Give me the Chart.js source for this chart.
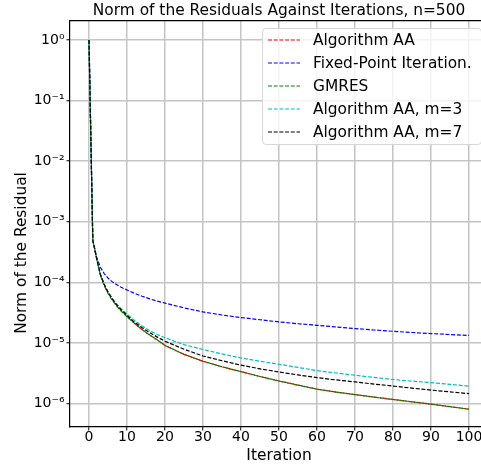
<!DOCTYPE html>
<html>
<head>
<meta charset="utf-8">
<script src="https://cdn.jsdelivr.net/npm/chart.js@4.4.1/dist/chart.umd.min.js"></script>
<style>
  body { margin: 0; background: #fff; overflow: hidden; }
  #wrap { position: relative; width: 500px; height: 469px; }
  #legend {
    position: absolute; left: 262px; top: 28px; width: 220px; height: 117px;
    border: 1px solid #d6d6d6; border-radius: 4px; background: rgba(255,255,255,0.8);
    font-family: "DejaVu Sans"; font-size: 15.4px; color: #000; box-sizing: border-box;
    padding-top: 0px;
  }
  .row { height: 22.8px; display: flex; align-items: center; white-space: nowrap; }
  .row svg { margin-left: 5px; margin-right: 13px; }
</style>
</head>
<body>
<div id="wrap">
  <canvas id="myChart" width="500" height="469"></canvas>
  <div id="legend"></div>
</div>
<script>
const iterations = [0, 1, 2, 3, 4, 5, 6, 7, 8, 9, 10, 12, 14, 16, 18, 20, 25, 30, 35, 40, 45, 50, 55, 60, 65, 70, 75, 80, 85, 90, 95, 100];

const algAA = [1, 5.0e-4, 2.5e-4, 1.35e-4, 9.2e-5, 6.8e-5, 5.4e-5, 4.4e-5, 3.7e-5, 3.2e-5, 2.75e-5, 2.1e-5, 1.66e-5, 1.35e-5, 1.12e-5, 9.1e-6, 6.5e-6, 5.0e-6, 4.05e-6, 3.37e-6, 2.8e-6, 2.36e-6, 2.02e-6, 1.73e-6, 1.55e-6, 1.41e-6, 1.28e-6, 1.17e-6, 1.07e-6, 9.8e-7, 8.9e-7, 8.1e-7];
const fixedPoint = [1, 5.0e-4, 2.6e-4, 1.78e-4, 1.4e-4, 1.18e-4, 1.04e-4, 9.4e-5, 8.6e-5, 8.0e-5, 7.5e-5, 6.6e-5, 5.9e-5, 5.35e-5, 4.9e-5, 4.55e-5, 3.8e-5, 3.26e-5, 2.9e-5, 2.63e-5, 2.42e-5, 2.23e-5, 2.08e-5, 1.96e-5, 1.84e-5, 1.73e-5, 1.64e-5, 1.56e-5, 1.49e-5, 1.43e-5, 1.38e-5, 1.33e-5];
const gmres = [1, 5.0e-4, 2.5e-4, 1.3e-4, 8.8e-5, 6.6e-5, 5.2e-5, 4.3e-5, 3.6e-5, 3.1e-5, 2.7e-5, 2.1e-5, 1.66e-5, 1.35e-5, 1.12e-5, 9.1e-6, 6.5e-6, 5.0e-6, 4.05e-6, 3.37e-6, 2.8e-6, 2.36e-6, 2.02e-6, 1.73e-6, 1.55e-6, 1.41e-6, 1.28e-6, 1.17e-6, 1.07e-6, 9.8e-7, 8.9e-7, 8.1e-7];
const algAAm3 = [1, 5.0e-4, 2.5e-4, 1.36e-4, 9.4e-5, 7.0e-5, 5.6e-5, 4.6e-5, 3.9e-5, 3.4e-5, 3.0e-5, 2.35e-5, 1.9e-5, 1.6e-5, 1.38e-5, 1.22e-5, 9.4e-6, 7.8e-6, 6.6e-6, 5.66e-6, 5.0e-6, 4.46e-6, 3.95e-6, 3.5e-6, 3.2e-6, 2.94e-6, 2.7e-6, 2.5e-6, 2.35e-6, 2.22e-6, 2.08e-6, 1.94e-6];
const algAAm7 = [1, 5.0e-4, 2.5e-4, 1.35e-4, 9.3e-5, 6.9e-5, 5.5e-5, 4.5e-5, 3.8e-5, 3.3e-5, 2.85e-5, 2.2e-5, 1.78e-5, 1.48e-5, 1.25e-5, 1.07e-5, 7.9e-6, 6.1e-6, 5.1e-6, 4.3e-6, 3.75e-6, 3.32e-6, 2.97e-6, 2.68e-6, 2.46e-6, 2.28e-6, 2.1e-6, 1.95e-6, 1.8e-6, 1.67e-6, 1.56e-6, 1.46e-6];

const seriesNames = ["Algorithm AA", "Fixed-Point Iteration.", "GMRES", "Algorithm AA, m=3", "Algorithm AA, m=7"];
const seriesColors = ["#ff0000", "#0000ff", "#008000", "#00bfbf", "#000000"];

const xTicks = [0, 10, 20, 30, 40, 50, 60, 70, 80, 90, 100];
const yTicks = [1e-6, 1e-5, 1e-4, 1e-3, 1e-2, 1e-1, 1];
const yTickLabels = ["10⁻⁶", "10⁻⁵", "10⁻⁴", "10⁻³", "10⁻²", "10⁻¹", "10⁰"];

const chartTitle = "Norm of the Residuals Against Iterations, n=500";
const xTitle = "Iteration";
const yTitle = "Norm of the Residual";

const FONT = "DejaVu Sans";
const gridColor = "#c4c4c4";
const dash = [4, 1.7];

function toPoints(values) {
    return values.map((v, i) => ({ x: iterations[i], y: v }));
}

const allValues = [algAA, fixedPoint, gmres, algAAm3, algAAm7];

const data = {
    datasets: allValues.map((vals, i) => ({
        label: seriesNames[i],
        data: toPoints(vals),
        borderColor: seriesColors[i],
        backgroundColor: seriesColors[i],
        borderWidth: 1.2,
        borderDash: dash,
        borderDashOffset: i === 2 ? 2.8 : 0, // so the red under GMRES peeks through
        pointRadius: 0,
        tension: 0,
        fill: false,
        order: allValues.length - i // later series drawn on top, like matplotlib
    }))
};

// y axis title sits a bit below the middle in the original
const yTitlePlugin = {
    id: "yTitle",
    afterDraw(chart) {
        const ctx = chart.ctx;
        ctx.save();
        ctx.translate(22, 253);
        ctx.rotate(-Math.PI / 2);
        ctx.font = "15.4px \"" + FONT + "\"";
        ctx.fillStyle = "#000";
        ctx.textAlign = "center";
        ctx.textBaseline = "middle";
        ctx.fillText(yTitle, 0, 0);
        ctx.restore();
    }
};

const config = {
    type: "line",
    data,
    options: {
        responsive: false,
        animation: false,
        devicePixelRatio: 1,
        layout: { padding: { left: 0, right: 12, top: 0, bottom: 0 } },
        plugins: {
            legend: { display: false },
            title: { display: false },
            tooltip: { enabled: false }
        },
        scales: {
            x: {
                type: "linear",
                position: "bottom",
                min: -5,
                max: 105,
                afterFit: (s) => { s.height = 42; },
                afterBuildTicks: (s) => { s.ticks = xTicks.map(v => ({ value: v })); },
                ticks: {
                    color: "#000",
                    font: { family: FONT, size: 14 },
                    padding: -2,
                    maxRotation: 0,
                    autoSkip: false
                },
                grid: { color: gridColor, lineWidth: 1.5, tickColor: "#000", tickLength: 3.5, tickWidth: 1 },
                border: { display: true, color: "#000", width: 1.2 },
                title: {
                    display: true,
                    text: xTitle,
                    color: "#000",
                    font: { family: FONT, size: 15.4 },
                    padding: { top: 0, bottom: 4 }
                }
            },
            x2: {
                type: "linear",
                axis: "x",
                position: "top",
                min: -5,
                max: 105,
                afterFit: (s) => { s.height = 21; },
                ticks: { display: false },
                grid: { display: false, drawTicks: false },
                border: { display: true, color: "#000", width: 1.2 },
                title: {
                    display: true,
                    text: chartTitle,
                    color: "#000",
                    font: { family: FONT, size: 15.4 },
                    padding: { top: 2, bottom: 0 }
                }
            },
            y: {
                type: "logarithmic",
                min: 4.11e-7,
                max: 2.06,
                afterFit: (s) => { s.width = 70; },
                afterBuildTicks: (s) => { s.ticks = yTicks.map(v => ({ value: v })); },
                ticks: {
                    color: "#000",
                    font: { family: FONT, size: 14 },
                    padding: 2,
                    autoSkip: false,
                    callback: (value, index) => yTickLabels[index]
                },
                grid: { color: gridColor, lineWidth: 1.5, tickColor: "#000", tickLength: 3.5, tickWidth: 1 },
                border: { display: true, color: "#000", width: 1.2 }
            }
        }
    },
    plugins: [yTitlePlugin]
};

const ctx = document.getElementById("myChart");
const myChart = new Chart(ctx, config);

// legend box, built from the chart's datasets
const legendEl = document.getElementById("legend");
myChart.data.datasets.forEach((ds) => {
    const row = document.createElement("div");
    row.className = "row";
    row.innerHTML = '<svg width="32" height="4"><line x1="0" y1="2" x2="32" y2="2" stroke="' + ds.borderColor +
        '" stroke-width="1.2" stroke-dasharray="' + dash.join(" ") + '"/></svg>';
    const label = document.createElement("span");
    label.textContent = ds.label;
    row.appendChild(label);
    legendEl.appendChild(row);
});
</script>
</body>
</html>
